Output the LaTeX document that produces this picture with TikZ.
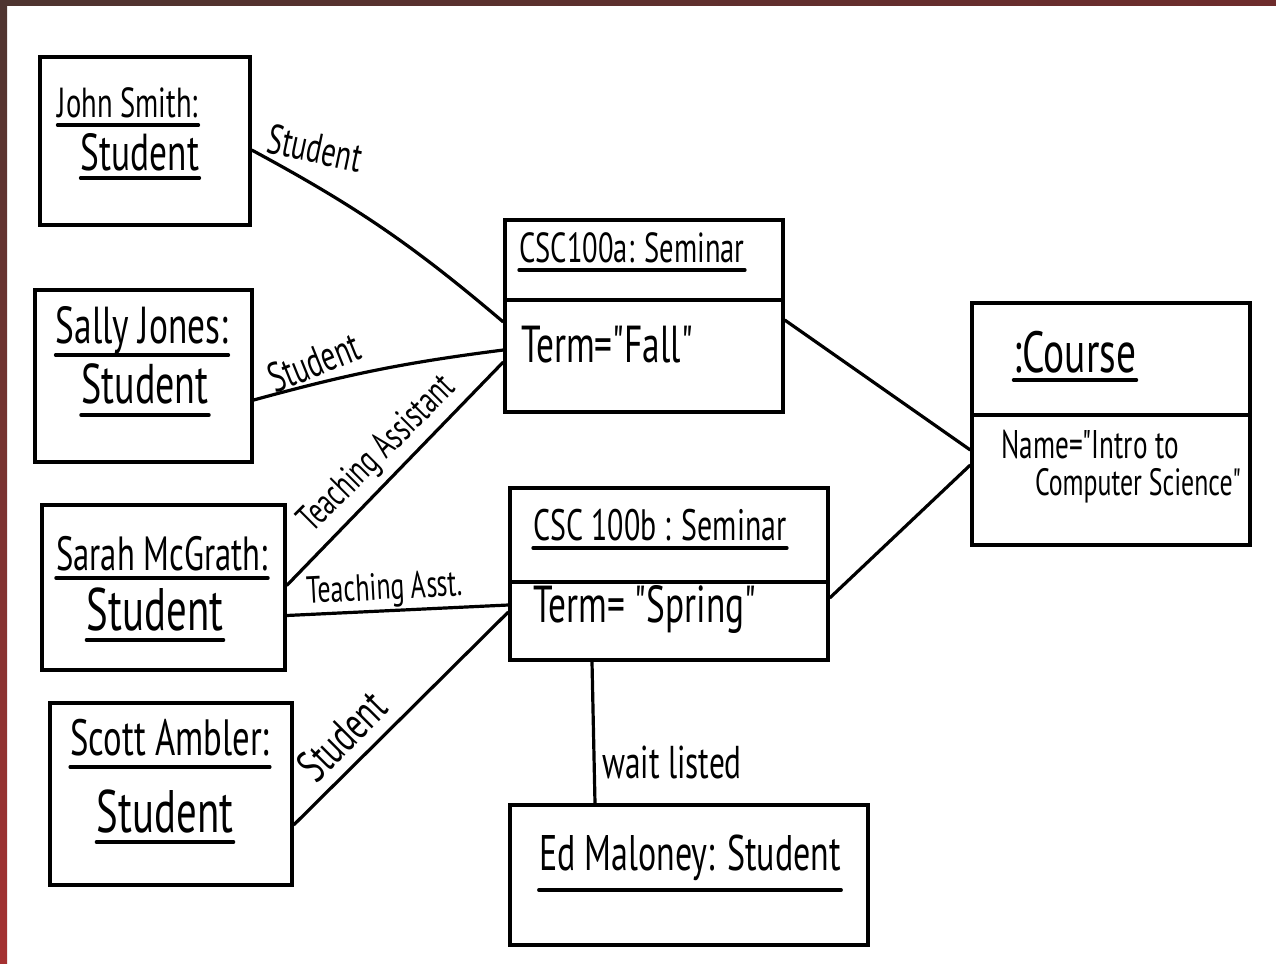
\documentclass[tikz,border=0pt]{standalone}
\usepackage{fontspec}
\newfontfamily\hand{PT Sans}[FakeStretch=0.68]
\newcommand{\hsz}[1]{\fontsize{#1}{#1}\selectfont}
\newcommand{\uln}[2]{\draw[uline] ([yshift=-#2]#1.base west) -- ([yshift=-#2]#1.base east);}
\definecolor{bandA}{HTML}{4E3430}
\definecolor{bandB}{HTML}{6E2C2C}
\definecolor{bandC}{HTML}{A53131}
\begin{document}
\begin{tikzpicture}[x=0.5pt,y=-0.5pt,
  box/.style={draw, line width=1.7pt, rectangle, inner sep=0pt},
  txt/.style={anchor=base, inner sep=0pt},
  lab/.style={inner sep=0pt},
  conn/.style={line width=1.6pt},
  uline/.style={line width=1.7pt, line cap=round}]
\useasboundingbox (0,0) rectangle (1276,964);
\fill[white] (0,0) rectangle (1276,964);
\shade[left color=bandA, right color=bandB] (0,0) rectangle (1276,5);
\shade[top color=bandA, bottom color=bandC] (0,0) rectangle (7,964);

% boxes
\node[box, minimum width=105pt, minimum height=84pt] (john) at (145,141) {};
\node[box, minimum width=108.5pt, minimum height=86pt] (sally) at (143.5,376) {};
\node[box, minimum width=121.5pt, minimum height=82.5pt] (sarah) at (163.5,587.5) {};
\node[box, minimum width=121pt, minimum height=91pt] (scott) at (171,794) {};
\node[box, minimum width=139pt, minimum height=96pt] (csca) at (644,316) {};
\node[box, minimum width=159pt, minimum height=86pt] (cscb) at (669,574) {};
\node[box, minimum width=139pt, minimum height=121pt] (course) at (1111,424) {};
\node[box, minimum width=179pt, minimum height=70pt] (ed) at (689,875) {};

% compartment dividers
\draw[conn] ([yshift=8pt]csca.west) -- ([yshift=8pt]csca.east);
\draw[conn] ([yshift=-4pt]cscb.west) -- ([yshift=-4pt]cscb.east);
\draw[conn] ([yshift=4.5pt]course.west) -- ([yshift=4.5pt]course.east);

% texts
\node[txt, font={\hand\hsz{21}}] (johnN) at (128,117) {John Smith:};
\node[txt, font={\hand\hsz{26}}] (johnC) at (140,170) {Student};
\node[txt, font={\hand\hsz{26}}] (sallyN) at (142,343) {Sally Jones:};
\node[txt, font={\hand\hsz{28}}] (sallyC) at (145,403) {Student};
\node[txt, font={\hand\hsz{24}}] (sarahN) at (162,570) {Sarah McGrath:};
\node[txt, font={\hand\hsz{30}}] (sarahC) at (155,630) {Student};
\node[txt, font={\hand\hsz{25.5}}] (scottN) at (170,755) {Scott Ambler:};
\node[txt, font={\hand\hsz{30}}] (scottC) at (165,832) {Student};
\node[txt, font={\hand\hsz{21}}] (cscaN) at (632,262) {CSC100a: Seminar};
\node[txt, font={\hand\hsz{26}}] (cscaA) at (607,362) {Term="Fall"};
\node[txt, font={\hand\hsz{22}}] (cscbN) at (660,540) {CSC 100b : Seminar};
\node[txt, font={\hand\hsz{26}}] (cscbA) at (645,622) {Term= "Spring"};
\node[txt, font={\hand\hsz{29}}] (courseN) at (1075,372) {:Course};
\node[txt, font={\hand\hsz{20}}] (courseA) at (1090,458) {Name="Intro to};
\node[txt, font={\hand\hsz{19}}] (courseB) at (1138,495) {Computer Science"};
\node[txt, font={\hand\hsz{25}}] (edN) at (690,870) {Ed Maloney: Student};

% underlines
\uln{johnN}{4pt}
\uln{johnC}{4pt}
\uln{sallyN}{6pt}
\uln{sallyC}{6pt}
\uln{sarahN}{4pt}
\uln{sarahC}{5pt}
\uln{scottN}{6pt}
\uln{scottC}{5pt}
\uln{cscaN}{4pt}
\uln{cscbN}{4pt}
\uln{courseN}{4pt}
\uln{edN}{10pt}

% connectors
\draw[conn] ([yshift=-4.5pt]john.east) to[bend left=6] ([yshift=-3pt]csca.west);
\draw[conn] ([yshift=-12pt]sally.east) to[bend left=4] ([yshift=-17pt]csca.west);
\draw[conn] ([yshift=1pt]sarah.east) -- ([yshift=-23pt]csca.west);
\draw[conn] ([yshift=-14pt]sarah.east) -- ([yshift=-15.5pt]cscb.west);
\draw[conn] ([yshift=-15.5pt]scott.east) -- ([yshift=-19pt]cscb.west);
\draw[conn] ([yshift=-2pt]csca.east) -- ([yshift=-13pt]course.west);
\draw[conn] ([yshift=-12pt]cscb.east) -- ([yshift=-20.5pt]course.west);
\draw[conn] ([xshift=-38.5pt]cscb.south) -- ([xshift=-47pt]ed.north);

% connector labels
\node[lab, font={\hand\hsz{21}}, rotate=-12] (l1) at (315,148) {Student};
\node[lab, font={\hand\hsz{21}}, rotate=22] (l2) at (314,362) {Student};
\node[lab, font={\hand\hsz{19}}, rotate=45] (l3) at (378,455) {Teaching Assistant};
\node[lab, font={\hand\hsz{19}}, rotate=3] (l4) at (385,590) {Teaching Asst.};
\node[lab, font={\hand\hsz{23}}, rotate=45] (l5) at (342,736) {Student};
\node[lab, font={\hand\hsz{23}}] (l6) at (672,762) {wait listed};
\end{tikzpicture}
\end{document}
